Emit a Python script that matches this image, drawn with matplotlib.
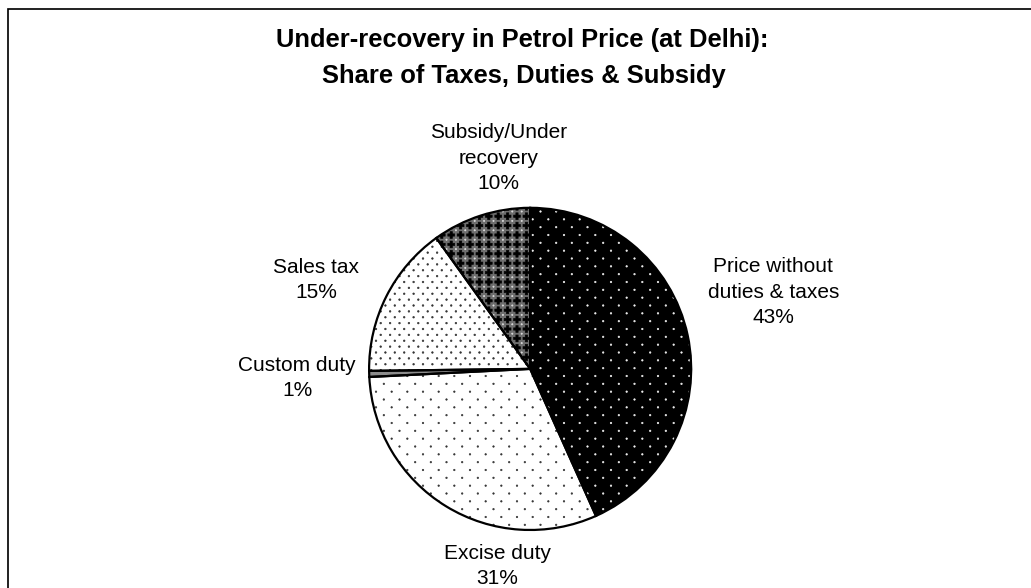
import warnings
import numpy as np
import matplotlib
matplotlib.use("Agg")
import matplotlib.pyplot as plt
import matplotlib.hatch as mhatch
from matplotlib.path import Path
from matplotlib.patches import Wedge, Rectangle

warnings.filterwarnings("ignore")

# ---------------- data ----------------
categories = ["Price without\nduties & taxes", "Excise duty", "Custom duty",
              "Sales tax", "Subsidy/Under\nrecovery"]
shares = [43.3, 30.9, 0.6, 15.3, 9.9]
title_lines = ["Under-recovery in Petrol Price (at Delhi):",
               "Share of Taxes, Duties & Subsidy"]

# ---------------- styling / layout ----------------
DPI = 94
W, H = 1031, 588
face_colors = ["black", "white", "#8c8c8c", "white", "#6e6e6e"]
hatches = ["a", "a", None, "b", "c"]
hatch_colors = ["#f0f0f0", "#333333", "#8c8c8c", "#333333", "black"]
# label centres in pixel coordinates (x right, y down)
label_xy = [(773, 292), (497, 566), (297, 378), (316, 280), (498, 158)]
pie_center = (530, H - 369)
pie_radius = 161


# ---------------- custom texture patterns ----------------
class LatticeHatch(mhatch.HatchPatternBase):
    char = None
    ncols = 6
    nrows = 12
    stagger = True
    offset = 0.0
    shape = "dot"
    size = 0.01
    arm = 0.03

    def __init__(self, hatch, density):
        on = hatch is not None and self.char in hatch
        self.shape_path = self._shape()
        self.centers = self._centers() if on else np.empty((0, 2))
        self.num_vertices = len(self.centers) * len(self.shape_path.vertices)

    def _shape(self):
        if self.shape == "dot":
            p = Path.unit_circle()
            return Path(p.vertices * self.size, p.codes)
        a, b = self.size, self.arm
        verts = [(-a, -b), (a, -b), (a, -a), (b, -a), (b, a), (a, a),
                 (a, b), (-a, b), (-a, a), (-b, a), (-b, -a), (-a, -a),
                 (-a, -b)]
        codes = [Path.MOVETO] + [Path.LINETO] * 11 + [Path.CLOSEPOLY]
        return Path(np.array(verts, float), codes)

    def _centers(self):
        pts = []
        for j in range(self.nrows + 1):
            y = (j + self.offset) / self.nrows
            if self.stagger and j % 2:
                xs = (np.arange(self.ncols) + 0.5) / self.ncols
            else:
                xs = (np.arange(self.ncols + 1) + self.offset) / self.ncols
            pts.extend((x, y) for x in xs)
        return np.array(pts)

    def set_vertices_and_codes(self, vertices, codes):
        sv = self.shape_path.vertices
        sc = self.shape_path.codes
        n = len(sv)
        for i, (x, y) in enumerate(self.centers):
            vertices[i * n:(i + 1) * n] = sv + (x, y)
            codes[i * n:(i + 1) * n] = sc


class SparseDots(LatticeHatch):
    char = "a"; ncols = 6; nrows = 12; size = 0.008


class DenseDots(LatticeHatch):
    char = "b"; ncols = 10; nrows = 16; size = 0.0085


class Crosses(LatticeHatch):
    char = "c"; ncols = 10; nrows = 10; stagger = False
    shape = "cross"; size = 0.012; arm = 0.036


class WhiteDots(LatticeHatch):
    char = "e"; ncols = 10; nrows = 10; stagger = False; offset = 0.5
    size = 0.007


mhatch._hatch_types.extend([SparseDots, DenseDots, Crosses, WhiteDots])
plt.rcParams["hatch.linewidth"] = 0.5
plt.rcParams["font.family"] = ["Liberation Sans", "DejaVu Sans"]

# ---------------- figure ----------------
fig = plt.figure(figsize=((W + 0.3) / DPI, (H + 0.3) / DPI), dpi=DPI)
fig.patch.set_facecolor("white")
ax = fig.add_axes([0, 0, 1, 1])

wedges, _ = ax.pie(shares, startangle=90, counterclock=False,
                   colors=face_colors, center=pie_center, radius=pie_radius,
                   wedgeprops=dict(linewidth=0))
ax.set_xlim(0, W)
ax.set_ylim(0, H)
ax.set_aspect("auto")
ax.axis("off")

for w, h, hc in zip(wedges, hatches, hatch_colors):
    w.set_edgecolor(hc)
    w.set_linewidth(0)
    if h:
        w.set_hatch(h)

# extra white dots on the subsidy slice
sw = wedges[4]
ax.add_patch(Wedge(sw.center, sw.r, sw.theta1, sw.theta2, facecolor="none",
                   edgecolor="#dddddd", linewidth=0, hatch="e", zorder=3))
# black outlines
for w in wedges:
    ax.add_patch(Wedge(w.center, w.r, w.theta1, w.theta2, facecolor="none",
                       edgecolor="black", linewidth=1.7, zorder=4))

# labels
for cat, val, (lx, ly) in zip(categories, shares, label_xy):
    ax.text(lx, H - ly, f"{cat}\n{round(val):.0f}%", ha="center",
            va="center", fontsize=16, linespacing=1.42, color="black",
            zorder=5)

# title
ax.text(522, H - 47, title_lines[0], ha="center", va="baseline",
        fontsize=19.5, fontweight="bold", zorder=5)
ax.text(524, H - 83, title_lines[1], ha="center", va="baseline",
        fontsize=19.5, fontweight="bold", zorder=5)

# chart border (top & left edges visible)
fig.patches.append(Rectangle((8 / W, -0.2), 1.5, (H - 9.5) / H + 0.2,
                             transform=fig.transFigure, fill=False,
                             edgecolor="black", linewidth=1.3))

fig.savefig("out.png", dpi=DPI, facecolor="white")
